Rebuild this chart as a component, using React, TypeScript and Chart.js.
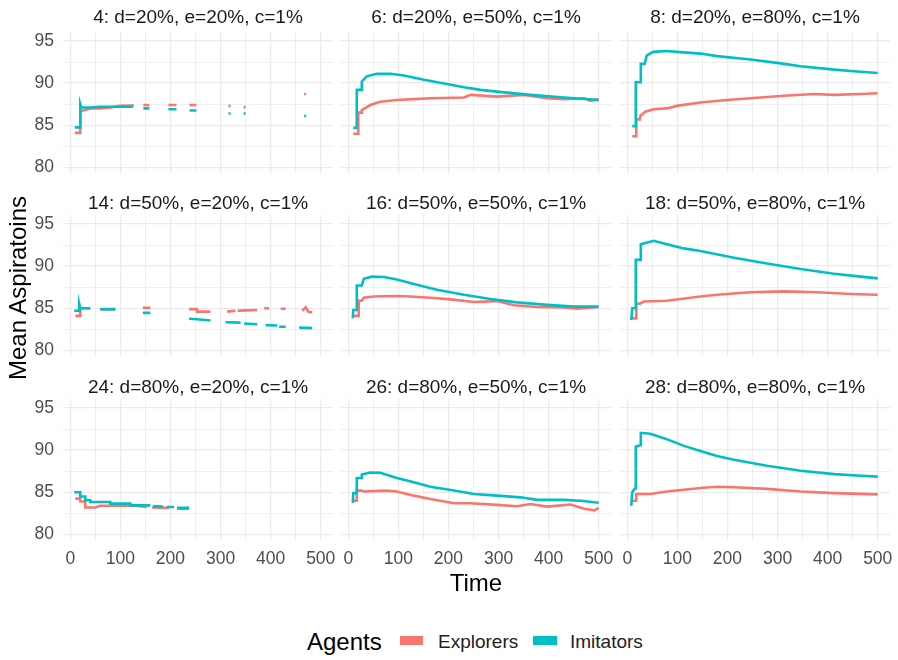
import React, { useEffect, useRef } from 'react';
import { Chart, registerables } from 'chart.js';

Chart.register(...registerables);
Chart.defaults.font.family = "'Liberation Sans', Arial, sans-serif";

type Pt = [number, number | null];

const RED = '#F8766D';
const TEAL = '#00BFC4';

// ---------- data: [time, mean aspiration] (null = gap) ----------
const exp4: Pt[] = [[9, 84.1], [20, 84.1], [20, 86.7], [30, 86.8], [40, 87.0], [60, 87.0], [80, 87.1], [100, 87.3], [127, 87.35], [128, null], [146, 87.4], [158, 87.4], [159, null], [196, 87.4], [212, 87.4], [213, null], [238, 87.4], [252, 87.4], [253, null], [316, 87.3], [320, 87.3], [321, null], [346, 87.15], [350, 87.15], [351, null], [467, 88.7], [471, 88.7]];
const imi4: Pt[] = [[9, 84.75], [20, 84.75], [20, 87.5], [22, 87.1], [40, 87.1], [60, 87.2], [100, 87.2], [125, 87.2], [126, null], [146, 87.0], [158, 87.0], [159, null], [196, 86.9], [212, 86.9], [213, null], [238, 86.75], [252, 86.75], [253, null], [316, 86.4], [320, 86.4], [321, null], [346, 86.4], [350, 86.4], [351, null], [467, 86.1], [471, 86.1]];

const exp6: Pt[] = [[10, 84.0], [20, 84.0], [20, 86.5], [27, 86.5], [27, 86.8], [44, 87.4], [64, 87.8], [97, 88.0], [131, 88.1], [164, 88.2], [231, 88.3], [244, 88.6], [297, 88.4], [351, 88.6], [397, 88.2], [431, 88.1], [471, 88.2], [484, 87.9], [500, 88.1]];
const imi6: Pt[] = [[10, 84.7], [17, 84.7], [17, 89.2], [27, 89.2], [27, 90.2], [37, 90.8], [57, 91.1], [84, 91.1], [111, 90.9], [151, 90.4], [197, 89.9], [231, 89.5], [264, 89.2], [311, 88.9], [364, 88.6], [431, 88.3], [500, 88.0]];

const exp8: Pt[] = [[10, 83.7], [18, 83.7], [18, 85.7], [25, 85.7], [26, 86.1], [36, 86.6], [52, 86.9], [79, 87.0], [99, 87.3], [146, 87.7], [199, 88.0], [246, 88.2], [313, 88.5], [373, 88.7], [413, 88.6], [466, 88.7], [500, 88.8]];
const imi8: Pt[] = [[10, 84.9], [17, 84.9], [17, 90.1], [27, 90.1], [27, 92.3], [35, 92.3], [39, 93.3], [52, 93.7], [79, 93.8], [99, 93.7], [146, 93.5], [179, 93.2], [246, 92.8], [299, 92.4], [346, 92.0], [413, 91.6], [453, 91.4], [500, 91.2]];

const exp14: Pt[] = [[10, 84.1], [20, 84.1], [20, 85.0], [40, 85.0], [41, null], [60, 84.85], [90, 84.85], [91, null], [145, 85.05], [160, 85.05], [161, null], [237, 84.9], [253, 84.9], [253, 84.6], [280, 84.6], [281, null], [313, 84.6], [330, 84.7], [331, null], [334, 84.7], [350, 84.75], [373, 84.8], [374, null], [387, 85.0], [397, 85.0], [398, null], [420, 84.95], [430, 84.95], [431, null], [463, 84.7], [470, 85.1], [475, 84.6], [483, 84.5]];
const imi14: Pt[] = [[8, 84.7], [18, 84.7], [18, 85.5], [20, 85.0], [40, 85.0], [41, null], [60, 84.9], [90, 84.9], [91, null], [145, 84.45], [160, 84.45], [161, null], [237, 83.75], [253, 83.7], [280, 83.55], [281, null], [310, 83.35], [340, 83.3], [341, null], [347, 83.2], [373, 83.1], [374, null], [390, 83.0], [413, 82.95], [414, null], [417, 82.8], [430, 82.8], [431, null], [457, 82.7], [483, 82.65]];

const exp16: Pt[] = [[10, 84.1], [21, 84.1], [21, 85.9], [27, 85.9], [31, 86.25], [51, 86.4], [97, 86.45], [124, 86.4], [164, 86.25], [204, 86.05], [251, 85.75], [297, 85.85], [331, 85.35], [377, 85.15], [431, 85.1], [457, 84.95], [500, 85.15]];
const imi16: Pt[] = [[9, 83.8], [10, 84.8], [17, 84.8], [17, 87.7], [27, 87.7], [31, 88.5], [47, 88.75], [71, 88.7], [97, 88.4], [137, 87.8], [177, 87.2], [231, 86.6], [284, 86.1], [337, 85.7], [397, 85.4], [451, 85.2], [500, 85.2]];

const exp18: Pt[] = [[10, 83.8], [18, 83.8], [18, 85.55], [25, 85.55], [33, 85.8], [79, 85.9], [146, 86.4], [179, 86.6], [246, 86.9], [313, 87.0], [379, 86.9], [446, 86.7], [500, 86.6]];
const imi18: Pt[] = [[8, 83.6], [10, 85.0], [16, 85.0], [17, 90.75], [27, 90.75], [27, 92.6], [46, 92.9], [53, 93.0], [79, 92.6], [113, 92.1], [146, 91.8], [213, 91.0], [279, 90.3], [346, 89.65], [413, 89.1], [466, 88.75], [500, 88.55]];

const exp24: Pt[] = [[10, 84.25], [20, 84.25], [20, 83.9], [30, 83.9], [30, 83.2], [50, 83.2], [60, 83.4], [130, 83.4], [153, 83.25], [154, null], [163, 83.2], [197, 83.15], [198, null], [213, 83.05], [237, 83.05]];
const imi24: Pt[] = [[8, 85.0], [20, 85.0], [20, 84.5], [30, 84.5], [30, 84.05], [40, 84.05], [40, 83.85], [80, 83.85], [80, 83.65], [120, 83.65], [120, 83.45], [160, 83.45], [161, null], [165, 83.35], [185, 83.3], [186, null], [193, 83.25], [207, 83.25], [208, null], [213, 83.15], [237, 83.15]];

const exp26: Pt[] = [[10, 84.0], [17, 84.0], [17, 85.2], [27, 85.2], [31, 85.1], [77, 85.2], [97, 85.1], [131, 84.6], [164, 84.2], [211, 83.7], [244, 83.7], [297, 83.5], [337, 83.35], [364, 83.6], [397, 83.3], [444, 83.55], [471, 83.05], [491, 82.85], [500, 83.15]];
const imi26: Pt[] = [[9, 83.75], [10, 84.9], [17, 84.9], [17, 86.7], [27, 86.7], [27, 87.1], [44, 87.35], [64, 87.3], [97, 86.7], [131, 86.2], [164, 85.65], [211, 85.2], [251, 84.8], [297, 84.6], [344, 84.4], [377, 84.1], [431, 84.1], [464, 84.0], [500, 83.75]];

const exp28: Pt[] = [[10, 84.0], [18, 84.0], [18, 84.8], [46, 84.8], [79, 85.1], [113, 85.3], [146, 85.5], [179, 85.65], [213, 85.6], [279, 85.4], [346, 85.1], [413, 84.9], [500, 84.75]];
const imi28: Pt[] = [[8, 83.4], [10, 85.0], [16, 85.5], [17, 90.4], [27, 90.6], [27, 92.05], [46, 91.95], [79, 91.3], [113, 90.5], [146, 89.9], [179, 89.3], [213, 88.85], [279, 88.15], [346, 87.55], [413, 87.15], [466, 86.95], [500, 86.85]];

const panelTitles: string[] = [
  '4: d=20%, e=20%, c=1%', '6: d=20%, e=50%, c=1%', '8: d=20%, e=80%, c=1%',
  '14: d=50%, e=20%, c=1%', '16: d=50%, e=50%, c=1%', '18: d=50%, e=80%, c=1%',
  '24: d=80%, e=20%, c=1%', '26: d=80%, e=50%, c=1%', '28: d=80%, e=80%, c=1%',
];
const explorerSeries: Pt[][] = [exp4, exp6, exp8, exp14, exp16, exp18, exp24, exp26, exp28];
const imitatorSeries: Pt[][] = [imi4, imi6, imi8, imi14, imi16, imi18, imi24, imi26, imi28];
const seriesNames = ['Explorers', 'Imitators'];

// ---------- layout ----------
const X_MIN = -14.5, X_MAX = 524.5, Y_MIN = 79.34, Y_MAX = 96.06;
const colLeft = [63, 341, 620];
const rowTop = [32, 215, 399];
const titleOffset = [16, 13, 13];
const PW = 270, PH = 141;
const GRID = '#EBEBEB';
const TICK_COLOR = '#4D4D4D';

function Panel({ idx }: { idx: number }) {
  const ref = useRef<HTMLCanvasElement>(null);
  const r = Math.floor(idx / 3), c = idx % 3;
  const yw = c === 0 ? 60 : 10;
  const xh = r === 2 ? 32 : 14;
  const padT = 14, padR = 18;
  const W = yw + PW + padR, H = padT + PH + xh;

  useEffect(() => {
    const toXY = (a: Pt[]) => a.map(([x, y]) => ({ x, y }));
    const chart = new Chart(ref.current as HTMLCanvasElement, {
      type: 'line',
      data: {
        datasets: [
          { label: seriesNames[1], data: toXY(imitatorSeries[idx]) as any, borderColor: TEAL, backgroundColor: TEAL, order: 0 },
          { label: seriesNames[0], data: toXY(explorerSeries[idx]) as any, borderColor: RED, backgroundColor: RED, order: 1 },
        ],
      },
      options: {
        responsive: false,
        animation: false,
        maintainAspectRatio: false,
        spanGaps: false,
        layout: { padding: { top: padT, right: padR, left: 0, bottom: 0 } },
        plugins: { legend: { display: false }, tooltip: { enabled: false }, title: { display: false } },
        elements: { point: { radius: 0, hoverRadius: 0 }, line: { borderWidth: 2.6, tension: 0, borderCapStyle: 'butt' } },
        scales: {
          x: {
            type: 'linear', min: X_MIN, max: X_MAX,
            border: { display: false },
            afterFit: (s: any) => {
              s.height = xh;
              s.paddingLeft = 0; s.paddingRight = 0; s.paddingTop = 0; s.paddingBottom = 0;
            },
            grid: {
              drawTicks: false,
              color: GRID,
              lineWidth: (ctx: any) => (ctx.tick && ctx.tick.value % 100 === 0 ? 1.3 : 0.8),
            },
            ticks: {
              display: r === 2,
              stepSize: 50,
              includeBounds: false,
              autoSkip: false,
              maxRotation: 0,
              padding: 9,
              color: TICK_COLOR,
              font: { size: 17.5 },
              callback: (v: any) => (Number(v) % 100 === 0 ? String(v) : ''),
            },
          },
          y: {
            type: 'linear', min: Y_MIN, max: Y_MAX,
            border: { display: false },
            afterFit: (s: any) => {
              s.width = yw;
              s.paddingLeft = 0; s.paddingRight = 0; s.paddingTop = 0; s.paddingBottom = 0;
            },
            grid: {
              drawTicks: false,
              color: GRID,
              lineWidth: (ctx: any) => (ctx.tick && ctx.tick.value % 5 === 0 ? 1.3 : 0.8),
            },
            ticks: {
              display: c === 0,
              stepSize: 2.5,
              includeBounds: false,
              autoSkip: false,
              padding: 9,
              color: TICK_COLOR,
              font: { size: 17.5 },
              callback: (v: any) => (Number(v) % 5 === 0 ? String(v) : ''),
            },
          },
        },
      } as any,
    });
    return () => chart.destroy();
  }, []);

  return (
    <canvas
      ref={ref}
      width={W}
      height={H}
      style={{ position: 'absolute', left: colLeft[c] - yw, top: rowTop[r] - padT, width: W, height: H }}
    />
  );
}

export default function App() {
  const titleFs = 19;
  return (
    <div
      style={{
        position: 'absolute', left: 0, top: 0, width: 898, height: 660, background: '#fff', overflow: 'hidden',
        fontFamily: "'Liberation Sans', Arial, sans-serif",
      }}
    >
      {panelTitles.map((_, i) => <Panel key={'p' + i} idx={i} />)}
      {panelTitles.map((t, i) => {
        const r = Math.floor(i / 3), c = i % 3;
        const cy = rowTop[r] - titleOffset[r];
        return (
          <div
            key={'t' + i}
            style={{
              position: 'absolute', left: colLeft[c], width: PW, top: cy - titleFs / 2, height: titleFs,
              lineHeight: titleFs + 'px', fontSize: titleFs, textAlign: 'center', color: '#1A1A1A', whiteSpace: 'nowrap',
            }}
          >
            {t}
          </div>
        );
      })}
      <div
        style={{
          position: 'absolute', left: 18 - 150, top: 288 - 12, width: 300, height: 24, lineHeight: '24px',
          fontSize: 24, textAlign: 'center', color: '#000', transform: 'rotate(-90deg)', whiteSpace: 'nowrap',
        }}
      >
        Mean Aspiratoins
      </div>
      <div
        style={{
          position: 'absolute', left: 476 - 100, top: 583 - 12, width: 200, height: 24, lineHeight: '24px',
          fontSize: 24, textAlign: 'center', color: '#000',
        }}
      >
        Time
      </div>
      <div style={{ position: 'absolute', left: 307, top: 642 - 12, height: 24, lineHeight: '24px', fontSize: 24, color: '#000' }}>
        Agents
      </div>
      <div style={{ position: 'absolute', left: 400, top: 636, width: 23, height: 9, background: RED }} />
      <div style={{ position: 'absolute', left: 438, top: 642 - 10, height: 20, lineHeight: '20px', fontSize: 19, color: '#222' }}>
        {seriesNames[0]}
      </div>
      <div style={{ position: 'absolute', left: 533, top: 636, width: 24, height: 9, background: TEAL }} />
      <div style={{ position: 'absolute', left: 570, top: 642 - 10, height: 20, lineHeight: '20px', fontSize: 19, color: '#222' }}>
        {seriesNames[1]}
      </div>
    </div>
  );
}
